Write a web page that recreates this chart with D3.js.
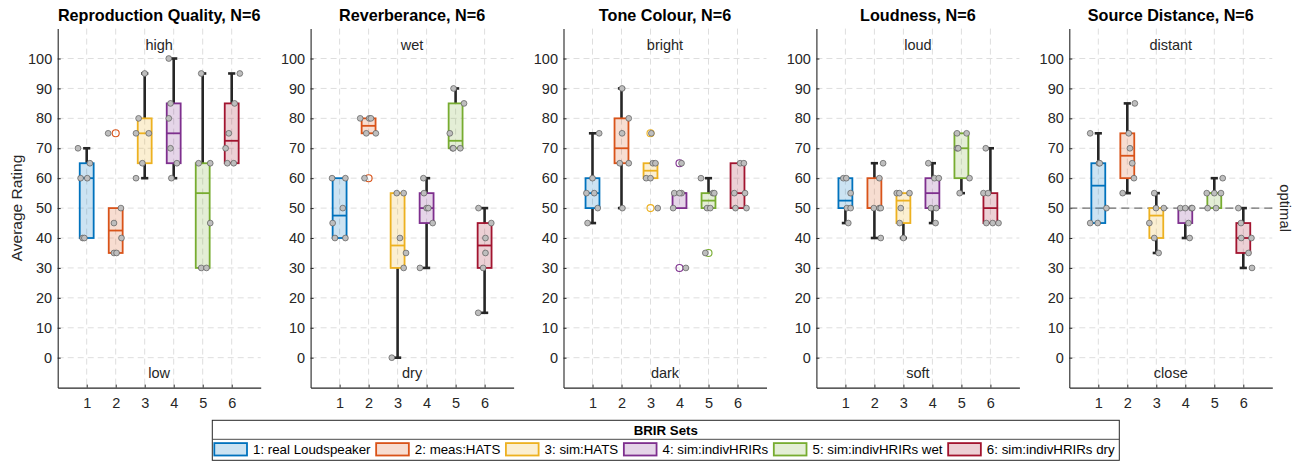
<!DOCTYPE html>
<html><head><meta charset="utf-8">
<script src="https://cdn.jsdelivr.net/npm/d3@7"></script>
<style>
html,body{margin:0;padding:0;background:#fff;}
svg{display:block;font-family:"Liberation Sans",Arial,Helvetica,sans-serif;}
</style></head><body>
<svg id="chart" width="1301" height="462"></svg>
<script>
// ---------- data ----------
const categories = ["1", "2", "3", "4", "5", "6"];
const setNames = ["1: real Loudspeaker", "2: meas:HATS", "3: sim:HATS", "4: sim:indivHRIRs", "5: sim:indivHRIRs wet", "6: sim:indivHRIRs dry"];
const setColors = ["#0072BD", "#D95319", "#EDB120", "#7E2F8E", "#77AC30", "#A2142F"];
const panelTitles = ["Reproduction Quality, N=6", "Reverberance, N=6", "Tone Colour, N=6", "Loudness, N=6", "Source Distance, N=6"];
const highLabels = ["high", "wet", "bright", "loud", "distant"];
const lowLabels = ["low", "dry", "dark", "soft", "close"];
const yTickValues = [0, 10, 20, 30, 40, 50, 60, 70, 80, 90, 100];
const legendTitle = "BRIR Sets";
const yAxisLabel = "Average Rating";
const optimalLabel = "optimal";
const optimalValue = 50;

// per-listener ratings (6 listeners) for each BRIR set
const qualityRatings = [
  [70, 65, 60, 60, 40, 40],
  [75, 50, 45, 40, 35, 35],
  [95, 80, 75, 75, 65, 60],
  [100, 85, 80, 70, 65, 60],
  [95, 65, 65, 45, 30, 30],
  [95, 85, 75, 70, 65, 65]
];
const reverberanceRatings = [
  [60, 60, 50, 45, 40, 40],
  [80, 80, 80, 75, 75, 60],
  [55, 55, 40, 35, 30, 0],
  [60, 55, 50, 50, 45, 30],
  [90, 85, 75, 70, 70, 70],
  [50, 45, 40, 35, 30, 15]
];
const toneRatings = [
  [75, 60, 55, 55, 50, 45],
  [90, 80, 75, 65, 65, 50],
  [75, 65, 65, 60, 60, 50],
  [65, 55, 55, 55, 50, 30],
  [60, 55, 55, 50, 50, 35],
  [65, 65, 55, 55, 50, 50]
];
const loudnessRatings = [
  [60, 60, 55, 50, 50, 45],
  [65, 60, 50, 50, 50, 40],
  [55, 55, 55, 50, 45, 40],
  [65, 60, 60, 50, 50, 45],
  [75, 75, 70, 70, 60, 55],
  [70, 55, 55, 45, 45, 45]
];
const distanceRatings = [
  [75, 65, 65, 50, 45, 45],
  [85, 75, 70, 65, 60, 55],
  [55, 50, 50, 45, 40, 35],
  [50, 50, 50, 50, 45, 40],
  [60, 55, 55, 55, 50, 50],
  [50, 45, 40, 40, 35, 30]
];

// horizontal jitter of each scatter point (category units)
const qualityJitter = [
  [-0.30, 0.11, -0.21, 0.02, -0.14, -0.08],
  [-0.26, 0.18, -0.06, 0.20, -0.06, 0.03],
  [0.00, -0.21, -0.30, 0.14, -0.08, -0.30],
  [-0.17, -0.11, -0.17, -0.11, 0.11, -0.08],
  [-0.05, -0.14, 0.26, 0.26, -0.05, 0.13],
  [0.28, 0.10, -0.10, -0.21, -0.15, 0.07]
];
const reverberanceJitter = [
  [-0.26, 0.20, 0.11, -0.24, -0.16, 0.20],
  [-0.29, 0.02, 0.08, -0.08, 0.25, -0.14],
  [-0.03, 0.21, 0.08, 0.29, 0.21, -0.20],
  [-0.11, -0.09, 0.00, 0.06, 0.21, -0.23],
  [-0.07, 0.29, -0.20, -0.10, 0.16, -0.08],
  [-0.21, 0.23, 0.03, 0.03, -0.05, -0.22]
];
const toneJitter = [
  [0.23, 0.00, -0.21, 0.06, 0.18, -0.17],
  [0.02, 0.25, 0.02, -0.06, 0.25, 0.03],
  [0.03, 0.08, 0.17, -0.15, 0.00, 0.25],
  [0.07, -0.18, 0.07, 0.00, -0.22, 0.22],
  [-0.26, 0.15, 0.20, -0.05, 0.06, -0.11],
  [0.09, 0.22, -0.11, 0.26, -0.07, 0.31]
];
const loudnessJitter = [
  [-0.07, 0.03, 0.18, 0.05, 0.18, 0.10],
  [0.30, 0.17, -0.02, 0.17, 0.22, 0.22],
  [-0.23, -0.14, 0.21, -0.09, -0.13, 0.00],
  [-0.14, 0.07, 0.22, -0.05, 0.13, 0.11],
  [-0.15, 0.18, -0.15, -0.11, 0.28, -0.06],
  [-0.16, -0.24, -0.08, -0.14, 0.08, 0.28]
];
const distanceJitter = [
  [-0.28, 0.02, 0.05, 0.28, -0.28, -0.02],
  [0.26, 0.05, 0.09, 0.17, 0.23, -0.16],
  [-0.07, -0.01, 0.26, -0.24, -0.07, 0.08],
  [-0.17, 0.21, 0.24, 0.00, 0.11, 0.15],
  [0.29, -0.26, 0.00, 0.23, -0.23, 0.06],
  [-0.17, -0.08, -0.07, 0.28, 0.18, 0.30]
];

const panelRatings = [qualityRatings, reverberanceRatings, toneRatings, loudnessRatings, distanceRatings];
const panelJitter = [qualityJitter, reverberanceJitter, toneJitter, loudnessJitter, distanceJitter];
const panelHasOptimal = [false, false, false, false, true];

// ---------- layout ----------
const W = 1301, H = 462;
const panelLeft0 = 57.7, panelStep = 252.9, panelWidth = 203;
const plotTop = 28.6, plotBottom = 387.6;
const axisColor = "#262626";
const gridColor = "#dedede";
const fontAxis = 14.5, fontTitle = 16.2, fontLabel = 15.5, fontLegend = 13.3;

const svg = d3.select("#chart");
svg.append("rect").attr("width", W).attr("height", H).attr("fill", "#fff");

// MATLAB-style percentile
function prctile(sorted, p) {
  const n = sorted.length;
  const pos = n * p + 0.5;
  if (pos <= 1) return sorted[0];
  if (pos >= n) return sorted[n - 1];
  const lo = Math.floor(pos), f = pos - lo;
  return sorted[lo - 1] + f * (sorted[lo] - sorted[lo - 1]);
}
function boxStats(vals) {
  const s = vals.slice().sort((a, b) => a - b);
  const q1 = prctile(s, 0.25), q3 = prctile(s, 0.75), med = prctile(s, 0.5);
  const iqr = q3 - q1;
  const lim1 = q1 - 1.5 * iqr, lim3 = q3 + 1.5 * iqr;
  const inside = s.filter(v => v >= lim1 && v <= lim3);
  return {q1, q3, med, lo: d3.min(inside), hi: d3.max(inside), outliers: s.filter(v => v < lim1 || v > lim3)};
}

panelTitles.forEach((title, p) => {
  const left = panelLeft0 + p * panelStep;
  const x = d3.scaleLinear().domain([0, 7]).range([left, left + panelWidth]);
  const y = d3.scaleLinear().domain([-10, 110]).range([plotBottom, plotTop]);
  const g = svg.append("g");

  // grid
  const grid = g.append("g").attr("stroke", gridColor).attr("stroke-width", 1).attr("stroke-dasharray", "6,4");
  yTickValues.forEach(v => grid.append("line").attr("x1", x(0)).attr("x2", x(7)).attr("y1", y(v)).attr("y2", y(v)));
  categories.forEach((c, i) => grid.append("line").attr("x1", x(i + 1)).attr("x2", x(i + 1)).attr("y1", plotTop).attr("y2", plotBottom));

  // axes
  const ya = g.append("g").attr("transform", `translate(${left},0)`)
    .call(d3.axisLeft(y).tickValues(yTickValues).tickSizeInner(-3).tickSizeOuter(0).tickPadding(5.5));
  const xa = g.append("g").attr("transform", `translate(0,${plotBottom})`)
    .call(d3.axisBottom(x).tickValues(categories.map((c, i) => i + 1)).tickFormat((d) => categories[d - 1]).tickSizeInner(-3).tickSizeOuter(0).tickPadding(10.5));
  [ya, xa].forEach(a => {
    a.attr("font-family", null).attr("font-size", null);
    a.select(".domain").attr("stroke", axisColor).attr("stroke-width", 1.1);
    a.selectAll(".tick line").attr("stroke", axisColor).attr("stroke-width", 1);
    a.selectAll(".tick text").attr("fill", axisColor).style("font-size", fontAxis + "px");
  });

  // optimal line
  if (panelHasOptimal[p]) {
    g.append("line").attr("x1", x(0)).attr("x2", x(7)).attr("y1", y(optimalValue)).attr("y2", y(optimalValue))
      .attr("stroke", "#6e6e6e").attr("stroke-width", 1.4).attr("stroke-dasharray", "8,5");
    g.append("text").attr("transform", `translate(${left + panelWidth + 12.5},${y(optimalValue)}) rotate(90)`)
      .attr("text-anchor", "middle").attr("dy", "0.32em").attr("fill", axisColor)
      .style("font-size", "14.8px").text(optimalLabel);
  }

  const ratings = panelRatings[p], jitter = panelJitter[p];
  const boxW = x(0.48) - x(0);
  ratings.forEach((vals, s) => {
    const st = boxStats(vals);
    const cx = x(s + 1);
    const col = setColors[s];
    const bg = g.append("g");
    // whiskers
    if (st.hi > st.q3) {
      bg.append("line").attr("x1", cx).attr("x2", cx).attr("y1", y(st.q3)).attr("y2", y(st.hi)).attr("stroke", axisColor).attr("stroke-width", 2.6);
      bg.append("line").attr("x1", cx - 3.6).attr("x2", cx + 3.6).attr("y1", y(st.hi)).attr("y2", y(st.hi)).attr("stroke", axisColor).attr("stroke-width", 2.6);
    }
    if (st.lo < st.q1) {
      bg.append("line").attr("x1", cx).attr("x2", cx).attr("y1", y(st.q1)).attr("y2", y(st.lo)).attr("stroke", axisColor).attr("stroke-width", 2.6);
      bg.append("line").attr("x1", cx - 3.6).attr("x2", cx + 3.6).attr("y1", y(st.lo)).attr("y2", y(st.lo)).attr("stroke", axisColor).attr("stroke-width", 2.6);
    }
    // box
    bg.append("rect").attr("x", cx - boxW / 2).attr("width", boxW)
      .attr("y", y(st.q3)).attr("height", Math.max(0, y(st.q1) - y(st.q3)))
      .attr("fill", col).attr("fill-opacity", 0.2).attr("stroke", col).attr("stroke-width", 1.8);
    bg.append("line").attr("x1", cx - boxW / 2).attr("x2", cx + boxW / 2).attr("y1", y(st.med)).attr("y2", y(st.med))
      .attr("stroke", col).attr("stroke-width", 1.8);
    // outliers
    st.outliers.forEach(v => bg.append("circle").attr("cx", cx).attr("cy", y(v)).attr("r", 3.5)
      .attr("fill", "none").attr("stroke", col).attr("stroke-width", 1.1));
  });
  // scatter points on top
  ratings.forEach((vals, s) => {
    vals.forEach((v, k) => {
      g.append("circle").attr("cx", x(s + 1 + jitter[s][k])).attr("cy", y(v)).attr("r", 2.9)
        .attr("fill", "#bebebe").attr("stroke", "#5a5a5a").attr("stroke-width", 0.7);
    });
  });

  // texts
  const cxp = left + panelWidth / 2;
  g.append("text").attr("x", cxp).attr("y", 15.7).attr("dy", "0.35em").attr("text-anchor", "middle")
    .attr("font-weight", "bold").attr("fill", "#000").style("font-size", fontTitle + "px").text(title);
  g.append("text").attr("x", cxp).attr("y", 45.5).attr("dy", "0.32em").attr("text-anchor", "middle")
    .attr("fill", axisColor).style("font-size", fontAxis + "px").text(highLabels[p]);
  g.append("text").attr("x", cxp).attr("y", 373.3).attr("dy", "0.32em").attr("text-anchor", "middle")
    .attr("fill", axisColor).style("font-size", fontAxis + "px").text(lowLabels[p]);
  if (p === 0) {
    g.append("text").attr("transform", `translate(17,208) rotate(-90)`).attr("text-anchor", "middle").attr("dy", "0.35em")
      .attr("fill", axisColor).style("font-size", fontLabel + "px").text(yAxisLabel);
  }
});

// ---------- legend ----------
const legX = 212.3, legY = 420.3, legW = 907, legH = 40, legSep = 439.3;
const leg = svg.append("g");
leg.append("rect").attr("x", legX).attr("y", legY).attr("width", legW).attr("height", legH)
  .attr("fill", "#fff").attr("stroke", axisColor).attr("stroke-width", 1);
leg.append("line").attr("x1", legX).attr("x2", legX + legW).attr("y1", legSep).attr("y2", legSep)
  .attr("stroke", "#4a4a4a").attr("stroke-width", 1);
leg.append("text").attr("x", legX + legW / 2).attr("y", 430).attr("dy", "0.35em").attr("text-anchor", "middle")
  .attr("font-weight", "bold").attr("fill", "#000").style("font-size", fontLegend + "px").text(legendTitle);

const patchW = 32.7, patchH = 12.4, itemY = 449.3;
let cursor = legX + 2;
setNames.forEach((name, i) => {
  leg.append("rect").attr("x", cursor).attr("y", itemY - patchH / 2).attr("width", patchW).attr("height", patchH)
    .attr("fill", setColors[i]).attr("fill-opacity", 0.2).attr("stroke", setColors[i]).attr("stroke-width", 1.8);
  const t = leg.append("text").attr("x", cursor + patchW + 6).attr("y", itemY).attr("dy", "0.35em")
    .attr("fill", "#000").style("font-size", fontLegend + "px").text(name);
  cursor += patchW + 6 + t.node().getComputedTextLength() + 5.6;
});
</script>
</body></html>
